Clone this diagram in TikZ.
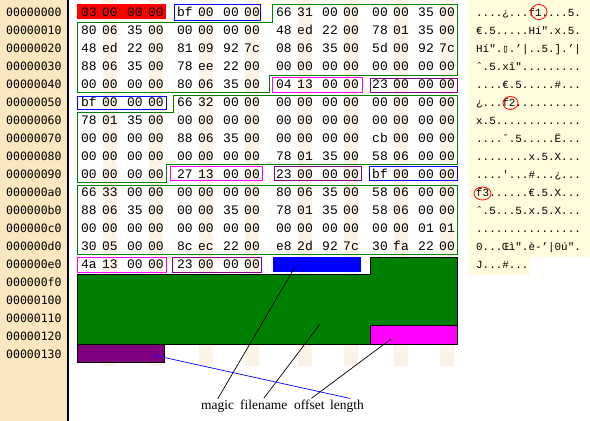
\documentclass[tikz,border=0pt]{standalone}
\usepackage{fontspec}
\setmainfont{Liberation Serif}
\newfontfamily\hexfont{Liberation Mono}
\newfontfamily\addrfont{DejaVu Sans Mono}
\newfontfamily\boxfont{DejaVu Sans Mono}

\begin{document}
\begin{tikzpicture}[x=1pt,y=-1pt,
  hexbyte/.style={anchor=base, inner sep=0pt, font=\hexfont\fontsize{13}{13}\selectfont},
  addr/.style={anchor=base west, inner sep=0pt, font=\addrfont\fontsize{11.5}{11.5}\selectfont},
  asciitxt/.style={anchor=base west, inner sep=0pt, font=\hexfont\fontsize{10.9}{10.9}\selectfont},
  lbl/.style={anchor=base west, inner sep=1pt, font=\fontsize{13.5}{13.5}\selectfont},
  pointer/.style={line width=0.7pt}]

% Colori
\definecolor{colAddr}{HTML}{FAE7BF}
\definecolor{colAscii}{HTML}{FFFBDD}
\definecolor{colStripe}{HTML}{FBF3E6}
\definecolor{colGreen}{HTML}{008000}
\definecolor{colBlue}{HTML}{0000FF}
\definecolor{colMag}{HTML}{FF00FF}
\definecolor{colPurple}{HTML}{800080}
\definecolor{colRed}{HTML}{FF0000}

\useasboundingbox (0,0) rectangle (590,421);

% Sfondi
\fill[colAddr] (0,0) rectangle (68,421);
\fill[colAscii] (468,0) -- (590,0) -- (590,257) -- (530,257) -- (530,275) -- (468,275) -- cycle;
\draw[line width=1.2pt] (68,0) -- (68,421);

% Colonne alternate
\foreach \gx in {89,185,284,380} {
  \fill[colStripe] (\gx+14,0) rectangle (\gx+28,366);
  \fill[colStripe] (\gx+60,0) rectangle (\gx+74,366);
}

% Campi pieni
\fill[colRed] (77,4) rectangle (166,19);
\fill[colBlue] (273,257) rectangle (361,272);
\filldraw[fill=colGreen, draw=black, line width=0.8pt]
  (370,257) -- (457,257) -- (457,344) -- (77,344) -- (77,274) -- (370,274) -- cycle;
\filldraw[fill=colMag, draw=black, line width=0.8pt] (370,325) rectangle (457,344);
\filldraw[fill=colPurple, draw=black, line width=0.8pt] (77,344) rectangle (164,362);

% Indirizzi
\foreach \a [count=\i from 0] in {00000000,00000010,00000020,00000030,00000040,
    00000050,00000060,00000070,00000080,00000090,000000a0,000000b0,000000c0,
    000000d0,000000e0,000000f0,00000100,00000110,00000120,00000130}
  \node[addr] (addr-\i) at (6,16+18*\i) {\a};

% Byte
\foreach \row [count=\i from 0] in {
    {03,00,00,00,bf,00,00,00,66,31,00,00,00,00,35,00},
    {80,06,35,00,00,00,00,00,48,ed,22,00,78,01,35,00},
    {48,ed,22,00,81,09,92,7c,08,06,35,00,5d,00,92,7c},
    {88,06,35,00,78,ee,22,00,00,00,00,00,00,00,00,00},
    {00,00,00,00,80,06,35,00,04,13,00,00,23,00,00,00},
    {bf,00,00,00,66,32,00,00,00,00,00,00,00,00,00,00},
    {78,01,35,00,00,00,00,00,00,00,00,00,00,00,00,00},
    {00,00,00,00,88,06,35,00,00,00,00,00,cb,00,00,00},
    {00,00,00,00,00,00,00,00,78,01,35,00,58,06,00,00},
    {00,00,00,00,27,13,00,00,23,00,00,00,bf,00,00,00},
    {66,33,00,00,00,00,00,00,80,06,35,00,58,06,00,00},
    {88,06,35,00,00,00,35,00,78,01,35,00,58,06,00,00},
    {00,00,00,00,00,00,00,00,00,00,00,00,00,00,01,01},
    {30,05,00,00,8c,ec,22,00,e8,2d,92,7c,30,fa,22,00},
    {4a,13,00,00,23,00,00,00}} {
  \foreach \b [count=\k from 0] in \row {
    \pgfmathsetmacro\bx{{89,185,284,380}[int(\k/4)]+{0,21,46,67}[int(mod(\k,4))]}
    \node[hexbyte] (b-\i-\k) at (\bx,16+18*\i) {\b};
  }
}

% Testo ASCII
\node[asciitxt] (asc-0) at (476,16) {....¿...f1....5.};
\node[asciitxt] (asc-1) at (476,34) {€.5.....Hí".x.5.};
\node[asciitxt] (asc-2) at (476,52) {Hí".{\boxfont ▯}.’|..5.].’|};
\node[asciitxt] (asc-3) at (476,70) {ˆ.5.xî".........};
\node[asciitxt] (asc-4) at (476,88) {....€.5.....\#...};
\node[asciitxt] (asc-5) at (476,106) {¿...f2..........};
\node[asciitxt] (asc-6) at (476,124) {x.5.............};
\node[asciitxt] (asc-7) at (476,142) {....ˆ.5.....Ë...};
\node[asciitxt] (asc-8) at (476,160) {........x.5.X...};
\node[asciitxt] (asc-9) at (476,178) {....\textquotesingle...\#...¿...};
\node[asciitxt] (asc-10) at (476,196) {f3......€.5.X...};
\node[asciitxt] (asc-11) at (476,214) {ˆ.5...5.x.5.X...};
\node[asciitxt] (asc-12) at (476,232) {................};
\node[asciitxt] (asc-13) at (476,250) {0...Œì".è-’|0ú".};
\node[asciitxt] (asc-14) at (476,268) {J...\#...};

% Cerchi rossi
\draw[colRed, line width=0.8pt] (539,12) ellipse [x radius=8, y radius=7.5];
\draw[colRed, line width=0.8pt] (510.5,103) ellipse [x radius=7.5, y radius=6.5];
\draw[colRed, line width=0.8pt] (482.5,193.5) ellipse [x radius=8.5, y radius=6.5];

% Riquadri - file 1
\draw[colBlue, line width=0.8pt] (174,4) rectangle (260,20);
\draw[colGreen, line width=0.8pt] (272,4) -- (457,4) -- (457,75) -- (269,75) -- (269,92)
  -- (77,92) -- (77,22) -- (272,22) -- cycle;
\draw[colMag, line width=0.8pt] (272,77) rectangle (362,92);
\draw[colPurple, line width=0.8pt] (370,78) rectangle (457,92);

% Riquadri - file 2
\draw[colBlue, line width=0.8pt] (77,96) rectangle (166,109);
\draw[colGreen, line width=0.8pt] (173,95) -- (457,95) -- (457,164) -- (166,164) -- (166,182)
  -- (77,182) -- (77,112) -- (173,112) -- cycle;
\draw[colMag, line width=0.8pt] (170,166) rectangle (262,180);
\draw[colPurple, line width=0.8pt] (274,166) rectangle (361,180);
\draw[colBlue, line width=0.8pt] (369,166) rectangle (457,180);

% Riquadri - file 3
\draw[colGreen, line width=0.8pt] (77,185) rectangle (457,254);
\draw[colMag, line width=0.8pt] (77,257) rectangle (166,272);
\draw[colPurple, line width=0.8pt] (172,257) rectangle (261,272);

% Etichette
\node[lbl] (lblMagic) at (200,409) {magic};
\node[lbl] (lblName) at (239,409) {filename};
\node[lbl] (lblOffset) at (293,409) {offset};
\node[lbl] (lblLength) at (329,409) {length};

\coordinate (endMagic) at (295,267);
\coordinate (endName) at (320,324);
\coordinate (endOffset) at (391,339);
\coordinate (endLength) at (153,355);

\draw[pointer] (lblMagic.north) -- (endMagic);
\draw[pointer] (lblName.north) -- (endName);
\draw[pointer] ([xshift=2pt]lblOffset.north) -- (endOffset);
\draw[pointer, colBlue] ([xshift=3pt]lblLength.north) -- (endLength);

\end{tikzpicture}
\end{document}
